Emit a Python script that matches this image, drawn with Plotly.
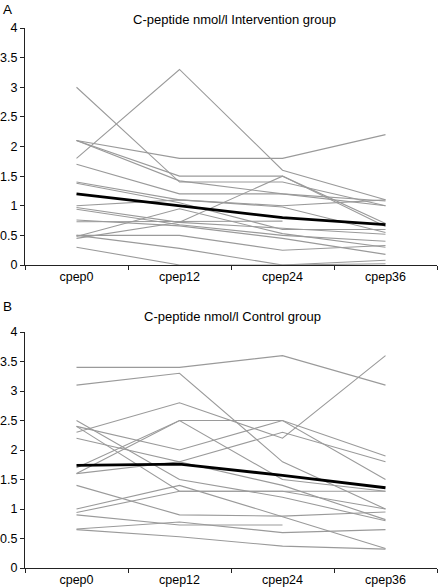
import plotly.graph_objects as go

categories = ["cpep0", "cpep12", "cpep24", "cpep36"]

# Panel A: individual patients, intervention group (nmol/l)
interv_lines = [
    [1.8, 3.3, 1.6, 1.1],
    [3.0, 1.4, 1.4, 1.0],
    [2.1, 1.8, 1.8, 2.2],
    [2.1, 1.5, 1.5, 0.7],
    [2.1, 1.42, 1.2, 1.08],
    [1.7, 1.2, 1.2, 1.0],
    [1.4, 1.1, 1.0, 1.1],
    [1.38, 1.05, 0.6, 0.6],
    [1.0, 1.1, 0.98, 0.55],
    [0.97, 0.72, 0.62, 0.52],
    [0.94, 0.68, 0.5, 0.4],
    [0.76, 0.66, 0.45, 0.18],
    [0.73, 0.73, 0.74, None],
    [0.5, 0.5, 0.25, 0.33],
    [0.48, 0.95, 0.53, 0.3],
    [0.45, 0.72, 1.5, 0.65],
    [0.3, 0.0, 0.0, 0.02],
    [0.5, 0.28, 0.0, 0.08],
]
interv_mean = [1.2, 1.0, 0.8, 0.68]

# Panel B: individual patients, control group (nmol/l)
control_lines = [
    [3.4, 3.4, 3.6, 3.1],
    [3.1, 3.3, 1.8, 1.0],
    [2.3, 2.8, 2.2, 3.6],
    [1.6, 2.5, 2.5, 1.9],
    [1.7, 2.5, 1.5, 1.3],
    [2.4, 2.0, 2.5, 1.5],
    [1.6, 1.8, 2.3, 1.8],
    [2.5, 1.5, 1.2, 0.8],
    [2.4, 1.3, 1.3, 1.3],
    [2.2, 1.8, 1.4, 0.82],
    [1.4, 0.9, 0.88, 0.95],
    [1.0, 1.4, 0.87, 0.33],
    [0.94, 1.3, 1.3, 1.0],
    [0.9, 0.73, 0.73, None],
    [0.66, 0.78, 0.6, 0.65],
    [0.65, 0.53, 0.37, 0.32],
]
control_mean = [1.74, 1.76, 1.57, 1.36]

y_ticks = [0, 0.5, 1, 1.5, 2, 2.5, 3, 3.5, 4]
y_tick_text = ["0", "0.5", "1", "1.5", "2", "2.5", "3", "3.5", "4"]

W, H = 444, 588
ML, MR, MT, MB = 25, 7, 28, 20
PH = H - MT - MB
PW = W - ML - MR

def py(p):
    return 1 - (p - MT) / PH

def px(p):
    return (p - ML) / PW

fig = go.Figure()

gray = "#9a9a9a"
for ln in interv_lines:
    fig.add_trace(go.Scatter(x=categories, y=ln, mode="lines", xaxis="x", yaxis="y",
                             line=dict(color=gray, width=1.1), hoverinfo="skip",
                             showlegend=False, connectgaps=False))
fig.add_trace(go.Scatter(x=categories, y=interv_mean, mode="lines", xaxis="x", yaxis="y",
                         line=dict(color="black", width=2.8), showlegend=False))

for ln in control_lines:
    fig.add_trace(go.Scatter(x=categories, y=ln, mode="lines", xaxis="x2", yaxis="y2",
                             line=dict(color=gray, width=1.1), hoverinfo="skip",
                             showlegend=False, connectgaps=False))
fig.add_trace(go.Scatter(x=categories, y=control_mean, mode="lines", xaxis="x2", yaxis="y2",
                         line=dict(color="black", width=2.8), showlegend=False))

FAM = "Liberation Sans, Arial, sans-serif"
font = dict(family=FAM, size=12.5, color="black")

xaxis_common = dict(type="category", range=[-0.5, 3.5], tickson="boundaries",
                    showline=True, linecolor="#222", linewidth=1, ticks="outside",
                    ticklen=4, tickcolor="#222", showgrid=False, zeroline=False,
                    tickfont=font, fixedrange=True, automargin=False)
yaxis_common = dict(range=[0, 4], tickvals=y_ticks, ticktext=y_tick_text,
                    showline=True, linecolor="#222", linewidth=1, ticks="outside",
                    ticklen=4, tickcolor="#222", showgrid=False, zeroline=False,
                    tickfont=font, fixedrange=True, automargin=False, ticklabelstandoff=0)

fig.update_layout(
    width=W, height=H,
    margin=dict(l=ML, r=MR, t=MT, b=MB, autoexpand=False),
    paper_bgcolor="white", plot_bgcolor="white",
    xaxis=dict(domain=[0, 1], anchor="y", **xaxis_common),
    yaxis=dict(domain=[py(265), 1], anchor="x", **yaxis_common),
    xaxis2=dict(domain=[0, 1], anchor="y2", **xaxis_common),
    yaxis2=dict(domain=[0, py(332)], anchor="x2", **yaxis_common),
    showlegend=False,
    annotations=[
        dict(text="C-peptide nmol/l Intervention group", x=px(234), y=py(10),
             xref="paper", yref="paper", showarrow=False,
             font=dict(family=FAM, size=13, color="black")),
        dict(text="C-peptide nmol/l Control group", x=px(232), y=py(316),
             xref="paper", yref="paper", showarrow=False,
             font=dict(family=FAM, size=13, color="black")),
        dict(text="A", x=px(1), y=py(10), xref="paper", yref="paper", showarrow=False,
             xanchor="left", yanchor="middle", font=dict(family=FAM, size=13.5, color="black")),
        dict(text="B", x=px(1), y=py(306), xref="paper", yref="paper", showarrow=False,
             xanchor="left", yanchor="middle", font=dict(family=FAM, size=13.5, color="black")),
    ],
)

fig.write_html("out.html",
               config={"displayModeBar": False, "staticPlot": True},
               post_script="document.body.style.margin='0';document.body.style.padding='0';")
